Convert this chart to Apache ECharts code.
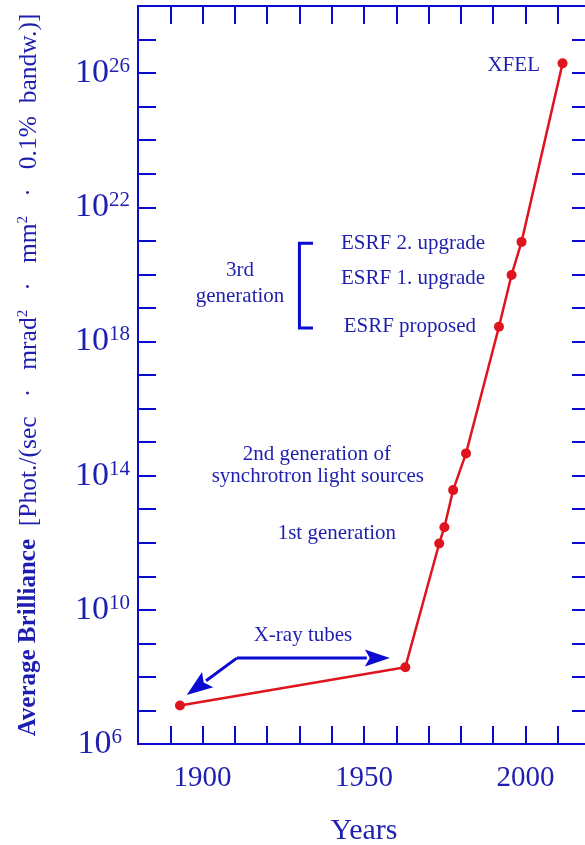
<!DOCTYPE html>
<html>
<head>
<meta charset="utf-8">
<script src="https://cdn.jsdelivr.net/npm/echarts@6/dist/echarts.min.js"></script>
<style>
html,body{margin:0;padding:0;background:#fff;}
#chart{width:585px;height:845px;}
</style>
</head>
<body>
<div id="chart"></div>
<script>
// ---- data ----
const years = [1893, 1962.8, 1973.3, 1974.9, 1977.6, 1981.6, 1991.8, 1995.7, 1998.8, 2011.5];
const brilliance = [1.4e7, 1.95e8, 9.5e11, 2.9e12, 3.7e13, 4.6e14, 2.75e18, 9.6e19, 9.3e20, 1.95e26];
const xTickLabels = [1900, 1950, 2000];
const yLabelExponents = [6, 10, 14, 18, 22, 26];

// annotation anchors: [year, log10(brilliance)]
const annoTexts = ['XFEL', 'ESRF 2. upgrade', 'ESRF 1. upgrade', 'ESRF proposed', '3rd', 'generation',
  '2nd generation of', 'synchrotron light sources', '1st generation', 'X-ray tubes'];
const annoX = [2004.5, 1965.2, 1965.2, 1964.2, 1911.6, 1911.6, 1935.4, 1935.7, 1941.6, 1931.1];
const annoLogY = [26.24, 20.93, 19.89, 18.46, 20.13, 19.35, 14.64, 13.96, 12.29, 9.22];
const annoAlign = ['right', 'center', 'center', 'center', 'center', 'center', 'center', 'center', 'center', 'center'];

const AXIS = '#0a0ad2';
const TXT = '#1e1eb0';
const RED = '#e0141e';
const FONT = '"Liberation Serif", "Times New Roman", serif';

const chart = echarts.init(document.getElementById('chart'), null, {renderer: 'canvas'});

const pts = years.map((y, i) => [y, brilliance[i]]);

const xBase = {
  type: 'value', min: 1880, max: 2020, interval: 10,
  axisLine: {show: true, onZero: false, lineStyle: {color: AXIS, width: 2}},
  axisTick: {show: true, inside: true, length: 18, lineStyle: {color: AXIS, width: 2}},
  splitLine: {show: false}
};
const yBase = {
  type: 'log', logBase: 10, min: 1e6, max: 1e28, interval: 1,
  axisLine: {show: true, onZero: false, lineStyle: {color: AXIS, width: 2}},
  axisTick: {show: true, inside: true, length: 18, lineStyle: {color: AXIS, width: 2}},
  splitLine: {show: false},
  minorTick: {show: false}
};

chart.setOption({
  animation: false,
  backgroundColor: '#fff',
  grid: {left: 138, top: 6, width: 452, height: 738, containLabel: false, outerBoundsMode: 'none'},
  xAxis: [
    Object.assign({}, xBase, {
      position: 'bottom',
      name: 'Years', nameLocation: 'middle', nameGap: 72,
      nameTextStyle: {color: TXT, fontFamily: FONT, fontSize: 30},
      axisLabel: {
        show: true, margin: 20, color: TXT, fontFamily: FONT, fontSize: 29,
        formatter: v => xTickLabels.indexOf(Math.round(v)) >= 0 ? String(Math.round(v)) : ''
      }
    }),
    Object.assign({}, xBase, {position: 'top', axisLabel: {show: false}})
  ],
  yAxis: [
    Object.assign({}, yBase, {
      position: 'left',
      name: '{t|Average Brilliance}{u|  [Phot./(sec   ·   mrad}{p|2}{u|   ·   mm}{p|2}{u|   ·   0.1%  bandw.)]}',
      nameLocation: 'middle', nameRotate: 90, nameGap: 96,
      nameTextStyle: {
        color: TXT, fontFamily: FONT,
        rich: {
          t: {fontSize: 25, fontWeight: 'bold', color: TXT, fontFamily: FONT},
          u: {fontSize: 25.5, color: TXT, fontFamily: FONT},
          p: {fontSize: 15, color: TXT, fontFamily: FONT, verticalAlign: 'top'}
        }
      },
      axisLabel: {
        show: true, margin: 8,
        formatter: v => {
          const e = Math.round(Math.log10(v));
          if (yLabelExponents.indexOf(e) < 0) return '';
          return '{b|10}{' + (e < 10 ? 's1' : 's') + '|' + e + '}';
        },
        rich: {
          b: {fontSize: 34, color: TXT, fontFamily: FONT},
          s: {fontSize: 21, color: TXT, fontFamily: FONT, verticalAlign: 'top'},
          s1: {fontSize: 21, color: TXT, fontFamily: FONT, verticalAlign: 'top', padding: [0, 8, 0, 0]}
        }
      }
    }),
    Object.assign({}, yBase, {position: 'right', axisLabel: {show: false}})
  ],
  series: [{
    type: 'line',
    xAxisIndex: 0, yAxisIndex: 0,
    data: pts,
    symbol: 'circle', symbolSize: 10,
    lineStyle: {color: RED, width: 2.5},
    itemStyle: {color: RED},
    z: 5
  }]
});

// ---- annotations placed via the chart's coordinate system ----
function px(x, logy) {
  return chart.convertToPixel({xAxisIndex: 0, yAxisIndex: 0}, [x, Math.pow(10, logy)]);
}
const graphics = [];
annoTexts.forEach((t, i) => {
  const p = px(annoX[i], annoLogY[i]);
  graphics.push({
    type: 'text', x: p[0], y: p[1], z: 10,
    style: {text: t, fill: TXT, font: '21px ' + FONT, textAlign: annoAlign[i], textVerticalAlign: 'middle'}
  });
});

// bracket for 3rd generation
const bTop = px(1930.0, 20.93), bBot = px(1930.0, 18.40), bTopR = px(1934.2, 20.93), bBotR = px(1934.2, 18.40);
graphics.push({
  type: 'polyline', z: 10,
  shape: {points: [bTopR, bTop, bBot, bBotR]},
  style: {stroke: AXIS, lineWidth: 3, fill: null}
});

// arrows for X-ray tubes
function arrow(s, t, headLen, halfW) {
  const dx = t[0] - s[0], dy = t[1] - s[1];
  const L = Math.sqrt(dx * dx + dy * dy);
  const ux = dx / L, uy = dy / L, nx = -uy, ny = ux;
  const bx = t[0] - ux * headLen, by = t[1] - uy * headLen;
  return [
    {type: 'line', z: 10, shape: {x1: s[0], y1: s[1], x2: bx + ux * 2, y2: by + uy * 2},
     style: {stroke: AXIS, lineWidth: 3}},
    {type: 'polygon', z: 10, shape: {points: [t, [bx + nx * halfW, by + ny * halfW], [bx + ux * 5, by + uy * 5], [bx - nx * halfW, by - ny * halfW]]},
     style: {fill: AXIS}}
  ];
}
const aStart = px(1910.6, 8.56);
graphics.push.apply(graphics, arrow(aStart, px(1958.0, 8.56), 25, 8.5));
graphics.push.apply(graphics, arrow(aStart, px(1895.1, 7.46), 26, 9.5));

chart.setOption({graphic: graphics});
</script>
</body>
</html>
